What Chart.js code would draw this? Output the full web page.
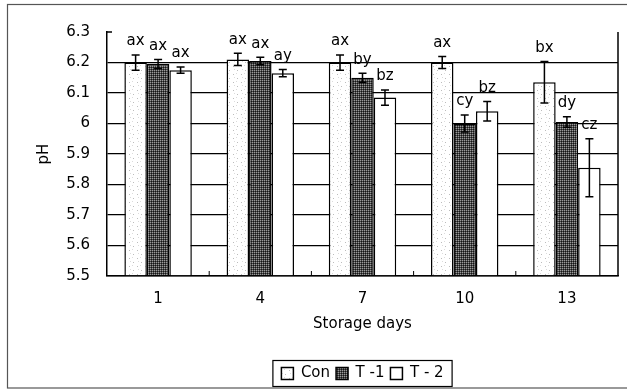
<!DOCTYPE html>
<html>
<head>
<meta charset="utf-8">
<script src="https://cdn.jsdelivr.net/npm/chart.js@4.4.1/dist/chart.umd.min.js"></script>
<style>
  html, body { margin: 0; padding: 0; background: #fff; }
</style>
</head>
<body>
<canvas id="myChart" width="627" height="389"></canvas>
<script>
const days = ['1', '4', '7', '10', '13'];
const seriesNames = ['Con', 'T -1', 'T - 2'];

const conValues = [6.20, 6.21, 6.20, 6.20, 6.135];
const t1Values = [6.195, 6.205, 6.15, 6.00, 6.005];
const t2Values = [6.175, 6.165, 6.085, 6.04, 5.855];

const conErr = [0.025, 0.02, 0.025, 0.02, 0.068];
const t1Err = [0.015, 0.012, 0.015, 0.028, 0.017];
const t2Err = [0.01, 0.012, 0.025, 0.032, 0.095];

const conLetters = ['ax', 'ax', 'ax', 'ax', 'bx'];
const t1Letters = ['ax', 'ax', 'by', 'cy', 'dy'];
const t2Letters = ['ax', 'ay', 'bz', 'bz', 'cz'];

const yTicks = [5.5, 5.6, 5.7, 5.8, 5.9, 6.0, 6.1, 6.2, 6.3];

const errors = [conErr, t1Err, t2Err];
const letters = [conLetters, t1Letters, t2Letters];

Chart.defaults.font.family = 'DejaVu Sans';
Chart.defaults.font.size = 15;
Chart.defaults.color = '#000';

// light speckled fill for Con
function makeConPattern() {
  const c = document.createElement('canvas');
  c.width = 8; c.height = 8;
  const g = c.getContext('2d');
  g.fillStyle = '#fff';
  g.fillRect(0, 0, 8, 8);
  g.fillStyle = '#bcbcbc';
  g.fillRect(1, 2, 1, 1);
  g.fillRect(5, 6, 1, 1);
  g.fillStyle = '#dcdcdc';
  g.fillRect(4, 1, 1, 1);
  g.fillRect(2, 5, 1, 1);
  return g.createPattern(c, 'repeat');
}

// dark mesh fill for T-1
function makeT1Pattern() {
  const c = document.createElement('canvas');
  c.width = 4; c.height = 4;
  const g = c.getContext('2d');
  g.fillStyle = '#474747';
  g.fillRect(0, 0, 4, 4);
  g.fillStyle = '#9a9a9a';
  [[0, 0], [2, 0], [0, 2], [2, 2]].forEach(p => g.fillRect(p[0], p[1], 1, 1));
  g.fillStyle = '#151515';
  [[1, 1], [3, 3], [1, 3], [3, 1]].forEach(p => g.fillRect(p[0], p[1], 1, 1));
  return g.createPattern(c, 'repeat');
}

const fills = [makeConPattern(), makeT1Pattern(), '#fff'];

const extras = {
  id: 'extras',
  afterDatasetsDraw(chart) {
    const ctx = chart.ctx;
    const y = chart.scales.y;
    const x = chart.scales.x;
    const area = chart.chartArea;
    ctx.save();
    ctx.strokeStyle = '#000';
    ctx.fillStyle = '#000';

    // right border of plot
    ctx.lineWidth = 1.5;
    ctx.beginPath();
    ctx.moveTo(area.right, area.top);
    ctx.lineTo(area.right, area.bottom);
    ctx.stroke();

    // short tick at the top of the value axis
    ctx.beginPath();
    ctx.moveTo(area.left, area.top);
    ctx.lineTo(area.left + 5, area.top);
    ctx.stroke();

    // small ticks between categories
    ctx.lineWidth = 1;
    for (let i = 0; i < days.length - 1; i++) {
      const bx = (x.getPixelForTick(i) + x.getPixelForTick(i + 1)) / 2;
      ctx.beginPath();
      ctx.moveTo(bx, area.bottom);
      ctx.lineTo(bx, area.bottom - 5);
      ctx.stroke();
    }

    // error bars and letters
    ctx.font = '15px "DejaVu Sans"';
    ctx.textAlign = 'center';
    ctx.textBaseline = 'bottom';
    chart.data.datasets.forEach((ds, i) => {
      const meta = chart.getDatasetMeta(i);
      meta.data.forEach((bar, j) => {
        const v = ds.data[j];
        const e = errors[i][j];
        const top = y.getPixelForValue(v + e);
        const bot = y.getPixelForValue(v - e);
        ctx.lineWidth = 1.5;
        ctx.beginPath();
        ctx.moveTo(bar.x, top);
        ctx.lineTo(bar.x, bot);
        ctx.moveTo(bar.x - 4, top);
        ctx.lineTo(bar.x + 4, top);
        ctx.moveTo(bar.x - 4, bot);
        ctx.lineTo(bar.x + 4, bot);
        ctx.stroke();
        ctx.fillText(letters[i][j], bar.x, top - 6);
      });
    });
    ctx.restore();
  },
  afterDraw(chart) {
    const ctx = chart.ctx;
    ctx.save();
    ctx.strokeStyle = '#000';
    ctx.lineWidth = 1.2;
    // frame round the legend
    const boxes = chart.legend.legendHitBoxes;
    if (boxes && boxes.length) {
      const l = Math.min(...boxes.map(b => b.left));
      const r = Math.max(...boxes.map(b => b.left + b.width));
      const t = Math.min(...boxes.map(b => b.top));
      const b2 = Math.max(...boxes.map(b => b.top + b.height));
      ctx.strokeRect(l - 8.5, t - 5.5, r - l + 17, b2 - t + 11);
    }
    // outer frame
    ctx.strokeStyle = '#555';
    ctx.strokeRect(7.5, 4.5, 640, 383.5);
    ctx.restore();
  }
};

new Chart(document.getElementById('myChart'), {
  type: 'bar',
  data: {
    labels: days,
    datasets: [
      { label: seriesNames[0], data: conValues, backgroundColor: fills[0] },
      { label: seriesNames[1], data: t1Values, backgroundColor: fills[1] },
      { label: seriesNames[2], data: t2Values, backgroundColor: fills[2] }
    ].map(ds => Object.assign(ds, {
      borderColor: '#000',
      borderWidth: 1.5,
      categoryPercentage: 0.66,
      barPercentage: 1.0,
      base: 5.5
    }))
  },
  options: {
    responsive: false,
    animation: false,
    layout: { padding: { top: 32, left: 10, right: 9, bottom: -2 } },
    scales: {
      x: {
        grid: { display: false },
        border: { display: true, color: '#000', width: 1.5 },
        ticks: { padding: 6 },
        title: { display: true, text: 'Storage days', padding: { top: 4, bottom: 27 } },
        afterFit(scale) { scale.height = 84; }
      },
      y: {
        min: 5.5,
        max: 6.3,
        afterBuildTicks(scale) { scale.ticks = yTicks.map(v => ({ value: v })); },
        ticks: {
          padding: 17,
          callback: v => String(+Number(v).toFixed(1))
        },
        grid: {
          drawTicks: false,
          lineWidth: 1.3,
          color: c => (c.tick && c.tick.value > 6.25 ? 'rgba(0,0,0,0)' : '#000')
        },
        border: { display: true, color: '#000', width: 1.5 },
        title: { display: true, text: 'pH', padding: { top: 25, bottom: 4 } },
        afterFit(scale) { scale.width = 97; }
      }
    },
    plugins: {
      legend: {
        position: 'bottom',
        fullSize: false,
        labels: {
          boxWidth: 12,
          boxHeight: 12,
          padding: 6,
          color: '#000'
        }
      },
      tooltip: { enabled: false }
    }
  },
  plugins: [extras]
});
</script>
</body>
</html>
